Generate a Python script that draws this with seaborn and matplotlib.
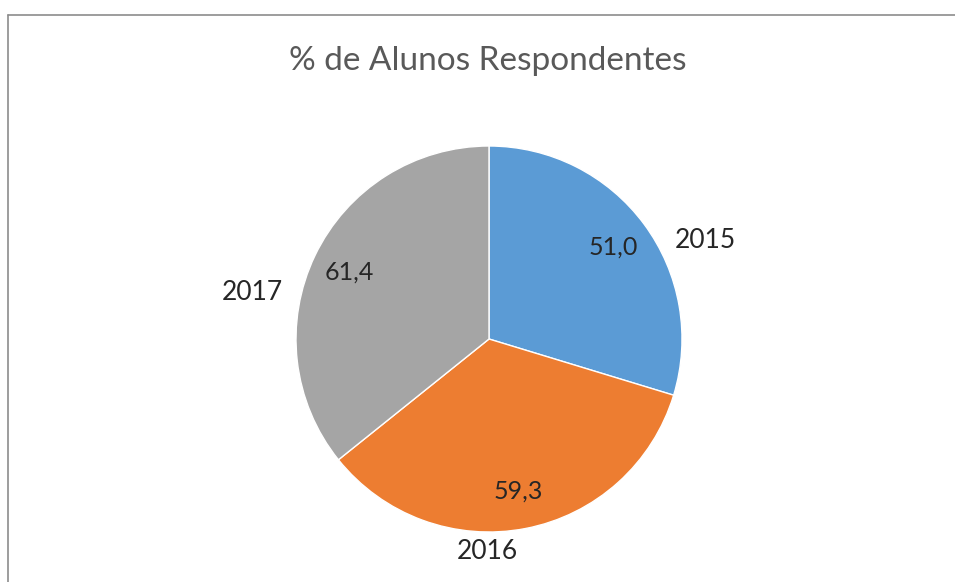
#!/usr/bin/env python3

# Import libraries
import numpy as np
import matplotlib.pyplot as plt
import seaborn as sns
from matplotlib.lines import Line2D

# Data
anos = ["2015", "2016", "2017"]
respondentes = [51.0, 59.3, 61.4]
cores = ["#5B9BD5", "#ED7D31", "#A5A5A5"]
titulo = "% de Alunos Respondentes"

sns.set_style("white")
plt.rcParams["font.family"] = ["Lato", "DejaVu Sans"]

W, H, DPI = 955, 582, 100
fig = plt.figure(figsize=(W / DPI, H / DPI), dpi=DPI)

# Pie centre and radius in pixels (layout)
cx, cy, r = 489, 339, 193
ax = fig.add_axes([0, 0, 1, 1])

total = sum(respondentes)
wedges, labels, values = ax.pie(
    respondentes,
    labels=anos,
    colors=cores,
    startangle=90,
    counterclock=False,
    autopct=lambda p: f"{p * total / 100:.1f}".replace(".", ","),
    pctdistance=0.80,
    labeldistance=1.2,
    wedgeprops=dict(edgecolor="white", linewidth=1),
    textprops=dict(color="#262626"),
)

ax.set_aspect("auto")
ax.set_xlim(-cx / r, (W - cx) / r)
ax.set_ylim(-(H - cy) / r, cy / r)
ax.axis("off")

# Category labels placed like Excel's "best fit"
label_polar = [(24.4, 1.23), (-90.5, 1.10), (168.8, 1.25)]
for txt, (ang, dist) in zip(labels, label_polar):
    a = np.deg2rad(ang)
    txt.set_position((dist * np.cos(a), dist * np.sin(a)))
    txt.set_ha("center")
    txt.set_va("center")
    txt.set_fontsize(19)

for txt in values:
    txt.set_fontsize(18)
    txt.set_ha("center")
    txt.set_va("center")

# Title
fig.text(488 / W, 1 - 61 / H, titulo, ha="center", va="center",
         fontsize=24, color="#595959")

# Chart frame: only top and left edges are visible
fx, fy = 7.5 / W, 1 - 14.5 / H
for xs, ys in [([fx, 1.05], [fy, fy]), ([fx, fx], [fy, -0.05])]:
    fig.lines.append(Line2D(xs, ys, transform=fig.transFigure,
                            color="#8C8C8C", linewidth=1.2))

# Save figure
plt.savefig("out.png", dpi=DPI)
